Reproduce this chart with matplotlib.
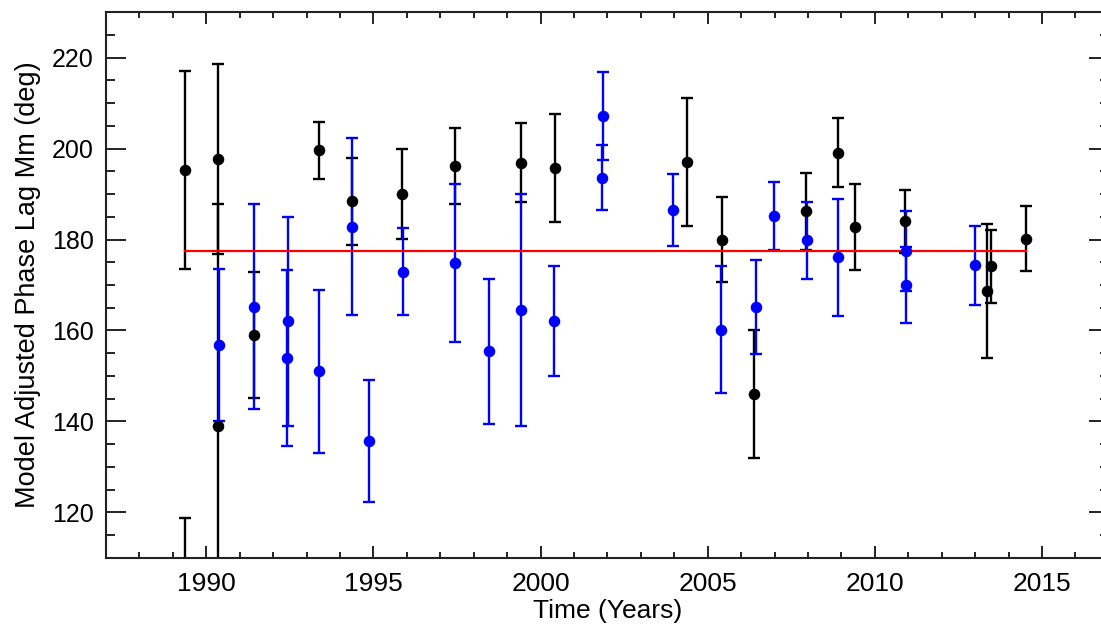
import matplotlib
matplotlib.use('Agg')
import matplotlib.pyplot as plt
from matplotlib.ticker import MultipleLocator

plt.rcParams['font.family'] = ['Liberation Sans', 'DejaVu Sans']

# black series: time (years), phase lag (deg), error (deg)
black_t = [1989.36, 1989.36, 1990.34, 1990.36, 1991.42, 1993.36, 1994.36,
           1995.85, 1997.43, 1999.40, 2000.42, 2004.37, 2005.44, 2006.39,
           2007.95, 2008.90, 2009.41, 2010.90, 2013.36, 2013.48, 2014.51]
black_lag = [195.3, 100.0, 197.7, 139.1, 159.0, 199.6, 188.4,
             190.0, 196.2, 196.9, 195.7, 197.0, 180.0, 146.0,
             186.2, 199.1, 182.8, 184.0, 168.7, 174.1, 180.2]
black_err = [21.8, 18.7, 20.8, 48.7, 13.9, 6.3, 9.5,
             9.9, 8.4, 8.7, 11.9, 14.1, 9.4, 14.0,
             8.5, 7.6, 9.4, 6.9, 14.7, 8.0, 7.2]

# blue series
blue_t = [1990.37, 1991.43, 1992.44, 1992.40, 1993.37, 1994.37, 1994.87,
          1995.87, 1997.43, 1998.45, 1999.40, 2000.41, 2001.87, 2001.84,
          2003.97, 2005.40, 2006.44, 2006.99, 2007.97, 2008.90, 2010.92,
          2010.92, 2012.99]
blue_lag = [156.8, 165.2, 162.0, 154.0, 151.0, 182.8, 135.7,
            172.9, 174.9, 155.4, 164.5, 162.0, 207.1, 193.6,
            186.4, 160.2, 165.1, 185.1, 179.8, 176.1, 177.4,
            170.0, 174.3]
blue_err = [16.7, 22.5, 23.0, 19.4, 18.0, 19.5, 13.5,
            9.6, 17.4, 16.0, 25.4, 12.1, 9.7, 7.1,
            7.9, 13.9, 10.3, 7.5, 8.4, 12.9, 8.8,
            8.3, 8.7]

mean_lag = 177.5

fig = plt.figure(figsize=(11.01, 6.29), dpi=100)
ax = fig.add_axes([0.0963, 0.1129, 0.9108, 0.868])

ax.errorbar(black_t, black_lag, yerr=black_err, fmt='o', color='black',
            ms=7.3, elinewidth=1.7, capsize=4.5, capthick=1.7)
ax.errorbar(blue_t, blue_lag, yerr=blue_err, fmt='o', color='#0000ff',
            ms=7.3, elinewidth=1.7, capsize=4.5, capthick=1.7)
t0 = min(black_t + blue_t)
t1 = max(black_t + blue_t)
ax.plot([t0, t1], [mean_lag, mean_lag], color='red', lw=1.6)

ax.set_xlim(1987, 2017)
ax.set_ylim(110, 230)
ax.xaxis.set_major_locator(MultipleLocator(5))
ax.xaxis.set_minor_locator(MultipleLocator(1))
ax.yaxis.set_major_locator(MultipleLocator(20))
ax.yaxis.set_minor_locator(MultipleLocator(5))

ax.tick_params(axis='both', which='both', direction='in', top=True, right=True,
               width=1.4, color='#222222')
ax.tick_params(axis='x', which='major', length=8.6, labelsize=19, pad=10)
ax.tick_params(axis='x', which='minor', length=4.3)
ax.tick_params(axis='y', which='major', length=14.4, labelsize=18, pad=9)
ax.tick_params(axis='y', which='minor', length=6.5)
for s in ax.spines.values():
    s.set_linewidth(1.5)
    s.set_color('#222222')

ax.set_xlabel('Time (Years)', fontsize=19, labelpad=2)
ax.set_ylabel('Model Adjusted Phase Lag Mm (deg)', fontsize=19.5, labelpad=8)

fig.savefig('out.png', dpi=100)
